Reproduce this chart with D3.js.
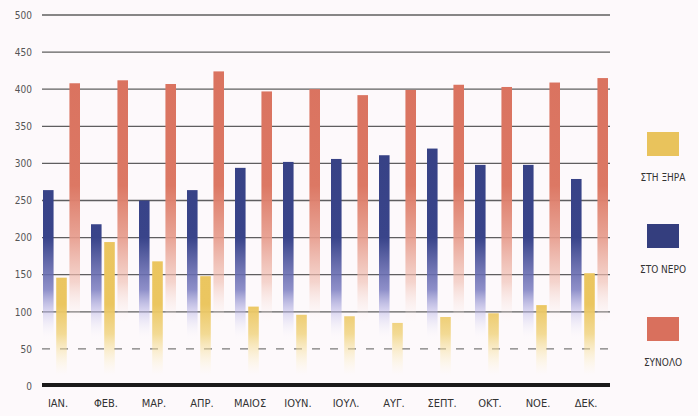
<!DOCTYPE html>
<html><head><meta charset="utf-8">
<script src="https://cdn.jsdelivr.net/npm/d3@7"></script>
<style>
html,body{margin:0;padding:0;background:#fdf9fb;}
svg{display:block;}
text{font-family:"Liberation Sans Narrow","DejaVu Sans Condensed","Liberation Sans",sans-serif;}
</style></head>
<body><svg id="c" width="698" height="416"></svg>
<script>
const months = ["ΙΑΝ.","ΦΕΒ.","ΜΑΡ.","ΑΠΡ.","ΜΑΙΟΣ","ΙΟΥΝ.","ΙΟΥΛ.","ΑΥΓ.","ΣΕΠΤ.","ΟΚΤ.","ΝΟΕ.","ΔΕΚ."];
const seriesNames = ["ΣΤΟ ΝΕΡΟ","ΣΤΗ ΞΗΡΑ","ΣΥΝΟΛΟ"];
const legendOrder = ["ΣΤΗ ΞΗΡΑ","ΣΤΟ ΝΕΡΟ","ΣΥΝΟΛΟ"];
const water = [264,218,250,264,294,302,306,311,320,298,298,279];
const land  = [146,194,168,148,107,96,94,85,93,98,109,152];
const total = [408,412,407,424,397,400,392,399,406,403,409,415];
const yTicks = [0,50,100,150,200,250,300,350,400,450,500];

const svg = d3.select("#c");
const y = d3.scaleLinear().domain([0,500]).range([386,15]);
const x0 = d3.scaleBand().domain(months).range([43,619]).paddingInner(0);
const x1 = d3.scaleBand().domain(seriesNames).range([0,37]).paddingInner(0.2);

const colors = {"ΣΤΟ ΝΕΡΟ":"#343e7e","ΣΤΗ ΞΗΡΑ":"#e9c35c","ΣΥΝΟΛΟ":"#d9705d"};
const values = {"ΣΤΟ ΝΕΡΟ":water,"ΣΤΗ ΞΗΡΑ":land,"ΣΥΝΟΛΟ":total};

const defs = svg.append("defs");
function grad(id, stops){
  const g = defs.append("linearGradient").attr("id",id)
    .attr("gradientUnits","userSpaceOnUse").attr("x1",0).attr("x2",0)
    .attr("y1",y(500)).attr("y2",y(0));
  stops.forEach(s=>g.append("stop").attr("offset",(s[0]-y(500))/(y(0)-y(500)))
    .attr("stop-color",s[1]).attr("stop-opacity",s[2]));
}
grad("g0",[[y(500),"#343e7e",1],[y(200),"#39448a",1],[y(130),"#7a7cc0",0.85],[y(100),"#b8b4e6",0.5],[y(60),"#ffffff",0]]);
grad("g1",[[y(500),"#e9c35c",1],[y(110),"#ebc660",1],[y(70),"#f0d27a",0.8],[y(15),"#fff4d0",0]]);
grad("g2",[[y(500),"#d9705d",1],[y(270),"#dc7864",1],[y(200),"#e69a8a",0.9],[y(140),"#f0c0b4",0.65],[y(80),"#ffffff",0]]);
const gradId = {"ΣΤΟ ΝΕΡΟ":"g0","ΣΤΗ ΞΗΡΑ":"g1","ΣΥΝΟΛΟ":"g2"};

const gx0 = 42, gx1 = 610;
svg.append("g").selectAll("line").data(yTicks.filter(d=>d>0)).join("line")
  .attr("x1",gx0).attr("x2",gx1).attr("y1",d=>y(d)).attr("y2",d=>y(d))
  .attr("stroke","#444").attr("stroke-width",1.3)
  .attr("stroke-dasharray",d=>d===50?"8,10":null)
  .attr("opacity",d=>d===50?0.7:0.85);

const yAxis = d3.axisLeft(y).tickValues(yTicks).tickSize(0).tickPadding(0);
const ya = svg.append("g").attr("transform","translate(32,0)").call(yAxis);
ya.select(".domain").remove();
ya.selectAll("text").attr("font-size",10).attr("fill","#555")
  .attr("font-family","'Liberation Sans Narrow','DejaVu Sans Condensed',sans-serif");

const groups = svg.append("g").selectAll("g").data(months).join("g")
  .attr("transform",d=>`translate(${x0(d)},0)`);
groups.selectAll("rect").data((m,i)=>seriesNames.map(s=>({s,v:values[s][i]}))).join("rect")
  .attr("x",d=>x1(d.s)).attr("width",x1.bandwidth())
  .attr("y",d=>y(d.v)).attr("height",d=>y(0)-y(d.v))
  .attr("fill",d=>`url(#${gradId[d.s]})`);

svg.append("line").attr("x1",gx0).attr("x2",gx1).attr("y1",385).attr("y2",385)
  .attr("stroke","#1a1a1a").attr("stroke-width",4);

const xAxis = d3.axisBottom(x0).tickSize(0).tickPadding(0);
const xa = svg.append("g").attr("transform","translate(-9,399)").call(xAxis);
xa.select(".domain").remove();
xa.selectAll("text").attr("font-size",11).attr("fill","#333")
  .attr("font-family","'Liberation Sans Narrow','DejaVu Sans Condensed',sans-serif");

const legY = {"ΣΤΗ ΞΗΡΑ":132,"ΣΤΟ ΝΕΡΟ":224,"ΣΥΝΟΛΟ":317};
const leg = svg.append("g").selectAll("g").data(legendOrder).join("g");
leg.append("rect").attr("x",647).attr("y",d=>legY[d]).attr("width",32).attr("height",24)
  .attr("fill",d=>colors[d]);
leg.append("text").attr("x",663).attr("y",d=>legY[d]+49).attr("text-anchor","middle")
  .attr("font-size",10).attr("fill","#333").text(d=>d);
</script></body></html>
